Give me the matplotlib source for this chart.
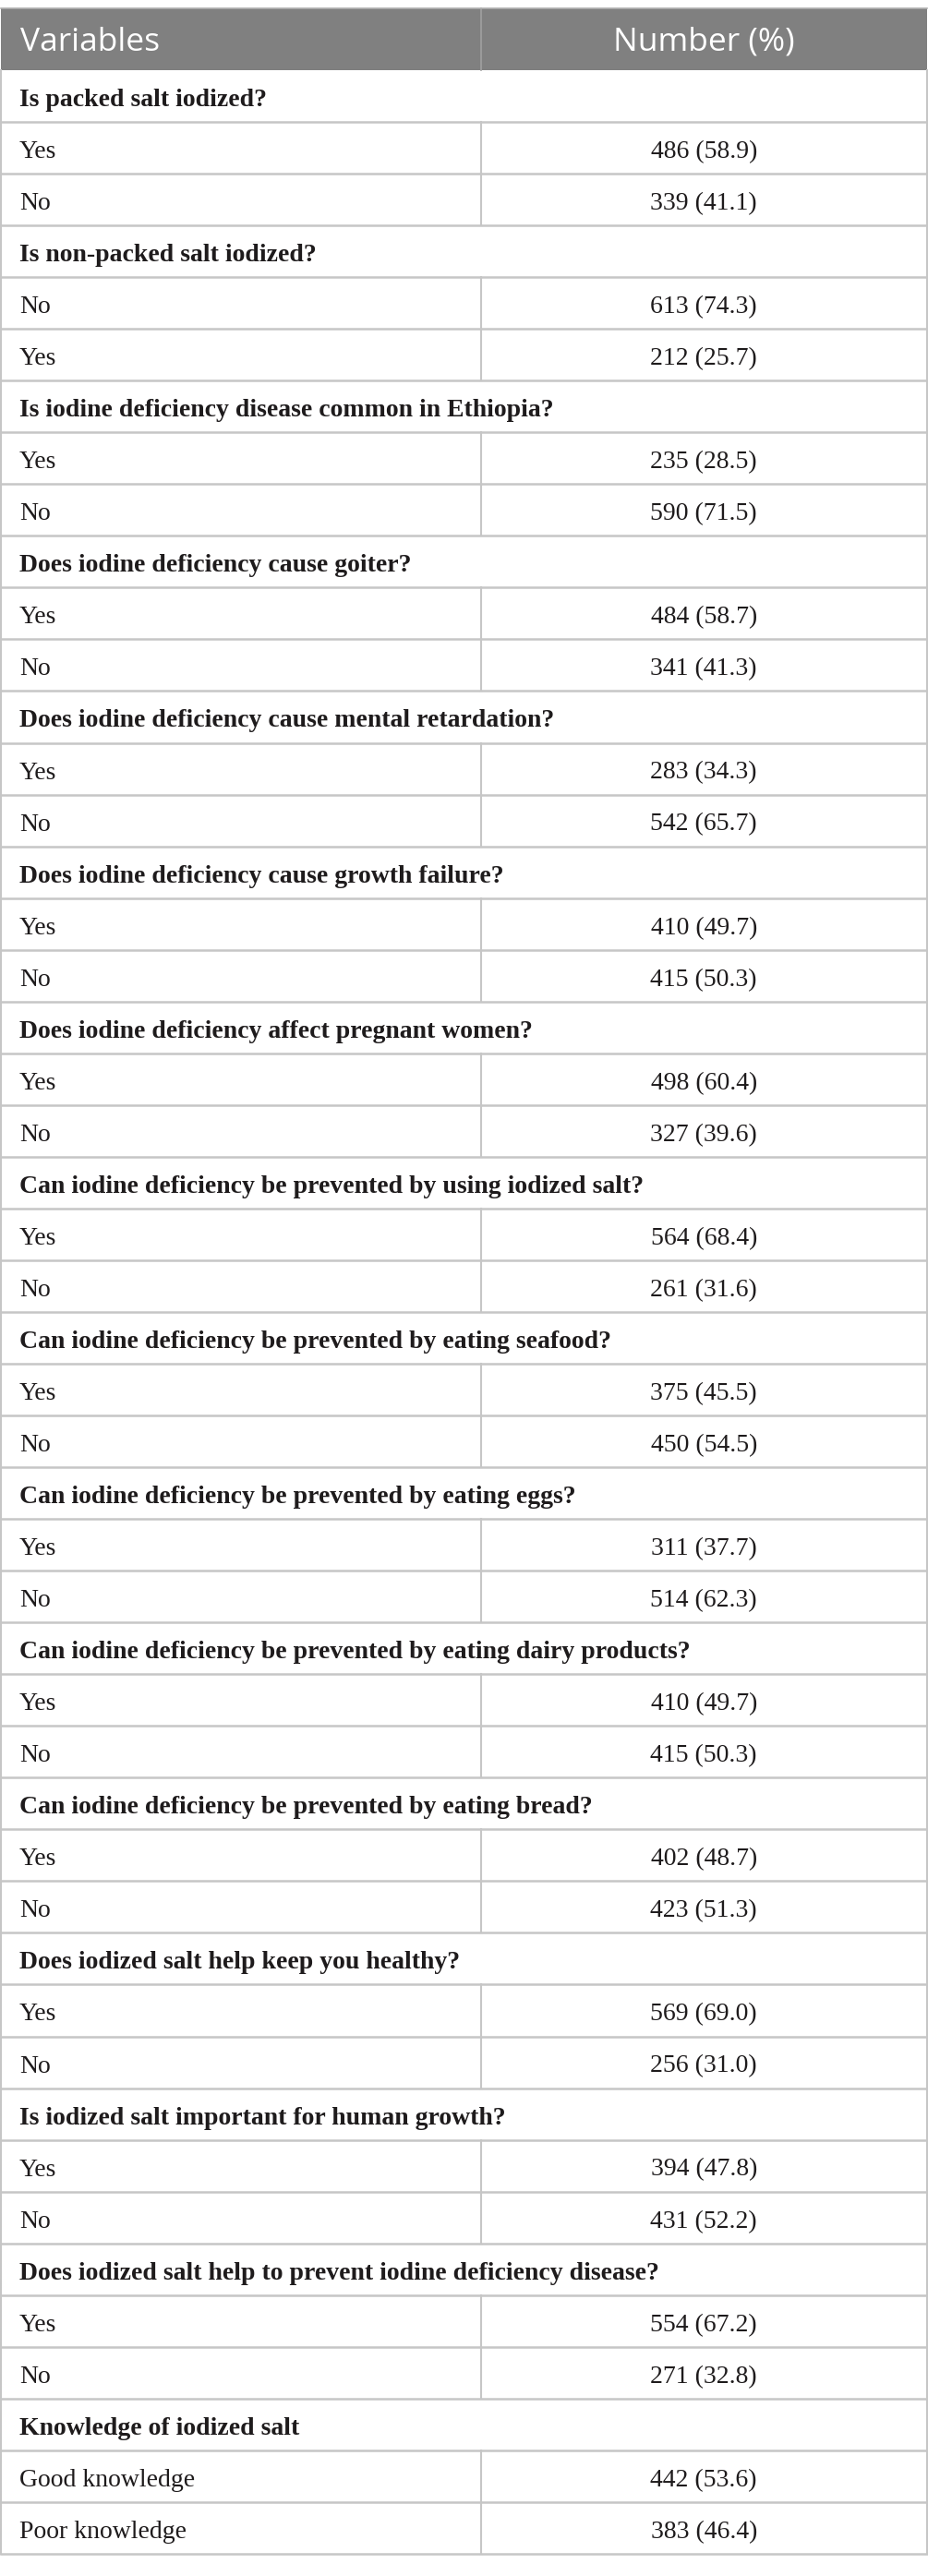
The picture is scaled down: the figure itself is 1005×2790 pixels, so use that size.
import matplotlib
matplotlib.use("Agg")
import matplotlib.pyplot as plt
from matplotlib.patches import Rectangle

# ---- data ----
header_labels = ["Variables", "Number (%)"]
sections = [
    "Is packed salt iodized?",
    "Is non-packed salt iodized?",
    "Is iodine deficiency disease common in Ethiopia?",
    "Does iodine deficiency cause goiter?",
    "Does iodine deficiency cause mental retardation?",
    "Does iodine deficiency cause growth failure?",
    "Does iodine deficiency affect pregnant women?",
    "Can iodine deficiency be prevented by using iodized salt?",
    "Can iodine deficiency be prevented by eating seafood?",
    "Can iodine deficiency be prevented by eating eggs?",
    "Can iodine deficiency be prevented by eating dairy products?",
    "Can iodine deficiency be prevented by eating bread?",
    "Does iodized salt help keep you healthy?",
    "Is iodized salt important for human growth?",
    "Does iodized salt help to prevent iodine deficiency disease?",
    "Knowledge of iodized salt",
]
answers = [
    ["Yes", "No"], ["No", "Yes"], ["Yes", "No"], ["Yes", "No"],
    ["Yes", "No"], ["Yes", "No"], ["Yes", "No"], ["Yes", "No"],
    ["Yes", "No"], ["Yes", "No"], ["Yes", "No"], ["Yes", "No"],
    ["Yes", "No"], ["Yes", "No"], ["Yes", "No"],
    ["Good knowledge", "Poor knowledge"],
]
counts = [
    [486, 339], [613, 212], [235, 590], [484, 341], [283, 542],
    [410, 415], [498, 327], [564, 261], [375, 450], [311, 514],
    [410, 415], [402, 423], [569, 256], [394, 431], [554, 271],
    [442, 383],
]
percents = [
    [58.9, 41.1], [74.3, 25.7], [28.5, 71.5], [58.7, 41.3], [34.3, 65.7],
    [49.7, 50.3], [60.4, 39.6], [68.4, 31.6], [45.5, 54.5], [37.7, 62.3],
    [49.7, 50.3], [48.7, 51.3], [69.0, 31.0], [47.8, 52.2], [67.2, 32.8],
    [53.6, 46.4],
]

# ---- layout (pixel units) ----
W, H = 1005, 2790
left, right, divider = 1, 1003.5, 521
head_top, head_bot = 9, 76
row_h = 56.04
pad = 20
line_col = "#c6c6c6"
head_col = "#808080"
text_col = "#1e1b1c"
serif = ["Liberation Serif", "DejaVu Serif"]
sans = ["Open Sans", "DejaVu Sans"]
fs = 20

fig = plt.figure(figsize=(W / 100, H / 100), dpi=100)
ax = fig.add_axes([0, 0, 1, 1])
ax.set_xlim(0, W)
ax.set_ylim(H, 0)
ax.axis("off")

# header
ax.add_patch(Rectangle((left, head_top), right - left, head_bot - head_top,
                       facecolor=head_col, edgecolor="none", zorder=1))
ax.plot([divider, divider], [head_top, head_bot], color="#a0a0a0", lw=1.2, zorder=2)
ax.plot([left, right], [head_top, head_top], color="#b0b0b0", lw=1.2, zorder=2)
ax.text(left + pad + 1, head_top + 46, header_labels[0], color="white",
        fontsize=25.5, family=sans, va="baseline", ha="left", zorder=3)
ax.text((divider + right) / 2, head_top + 46, header_labels[1], color="white",
        fontsize=25.5, family=sans, va="baseline", ha="center", zorder=3)

# body rows
rows = []
for s, ans, cnt, pct in zip(sections, answers, counts, percents):
    rows.append(("section", s, None))
    for a, c, p in zip(ans, cnt, pct):
        rows.append(("item", a, f"{c} ({p:.1f})"))

y = head_bot
for kind, label, val in rows:
    top, bot = y, y + row_h
    base = top + 39
    if kind == "section":
        ax.text(left + pad, base, label, fontsize=fs, family=serif,
                fontweight="bold", color=text_col, va="baseline", ha="left")
    else:
        ax.text(left + pad, base, label, fontsize=fs, family=serif,
                color=text_col, va="baseline", ha="left")
        ax.text((divider + right) / 2, base, val, fontsize=fs, family=serif,
                color=text_col, va="baseline", ha="center")
        ax.plot([divider, divider], [top, bot], color=line_col, lw=1.5, zorder=2)
    ax.plot([left, right], [bot, bot], color=line_col, lw=1.8, zorder=2)
    y = bot

# outer vertical borders
ax.plot([left, left], [head_bot, y], color=line_col, lw=1.5, zorder=2)
ax.plot([right, right], [head_bot, y], color=line_col, lw=1.5, zorder=2)

fig.savefig("out.png", dpi=100, facecolor="white")
